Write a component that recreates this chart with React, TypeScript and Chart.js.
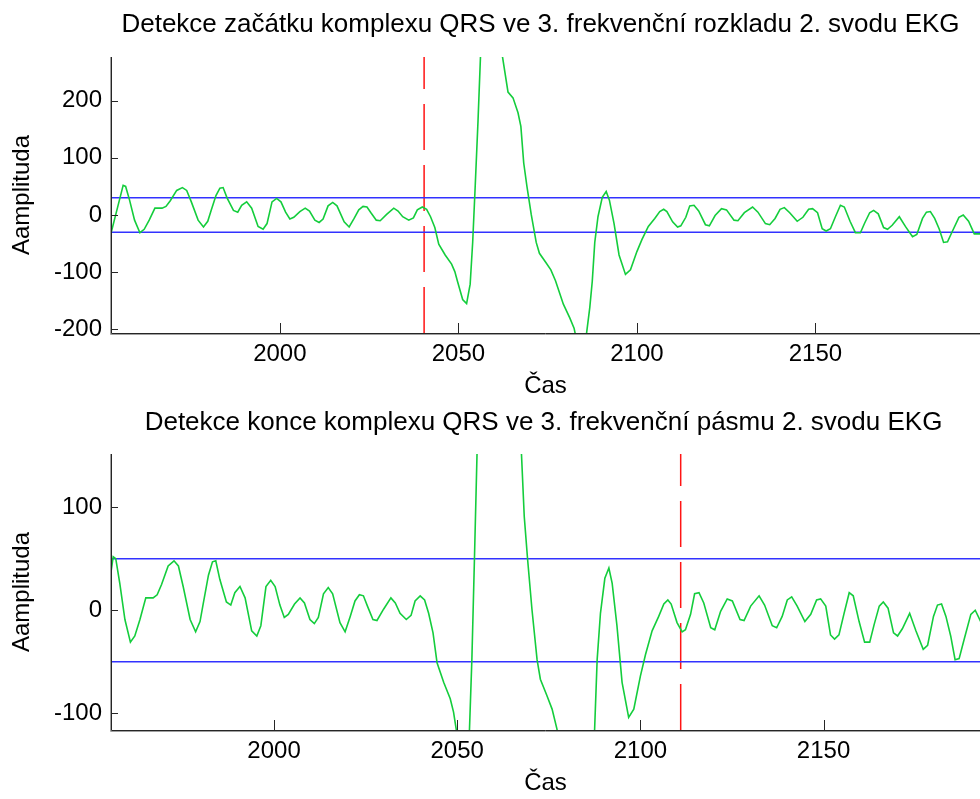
import React, { useEffect, useRef } from 'react';
import { Chart, registerables } from 'chart.js';

Chart.register(...registerables);

// ---- data (one EKG band signal, shown in both panels) ----
const signalTime = [
  1952.7, 1955.5, 1956.1, 1956.8, 1957.9, 1959.3, 1960.8, 1962.0, 1963.4, 1965.0,
  1967.0, 1968.1, 1969.3, 1971.1, 1972.7, 1973.9, 1975.2, 1977.1, 1978.6, 1979.8,
  1980.7, 1982.1, 1983.2, 1984.1, 1985.2, 1987.0, 1988.2, 1989.3, 1990.7, 1992.1,
  1993.9, 1995.3, 1996.4, 1997.8, 1999.1, 2000.3, 2001.6, 2002.8, 2003.9, 2005.6,
  2007.1, 2008.3, 2009.8, 2011.0, 2012.1, 2013.5, 2014.8, 2016.0, 2018.0, 2019.4,
  2020.8, 2022.1, 2023.3, 2024.4, 2025.5, 2027.0, 2028.1, 2029.9, 2031.9, 2033.1,
  2034.4, 2036.1, 2037.4, 2038.5, 2039.9, 2041.1, 2042.2, 2043.4, 2044.5, 2046.3,
  2048.1, 2049.0, 2049.7, 2051.2, 2052.3, 2053.3, 2054.0, 2054.7, 2055.5, 2056.2,
  2057.0, 2058.0, 2059.0, 2060.0, 2061.0, 2062.3, 2063.9, 2065.3, 2066.7, 2067.5,
  2068.3, 2069.2, 2070.4, 2071.8, 2072.7, 2074.5, 2075.9, 2077.2, 2079.4, 2081.2,
  2082.4, 2083.2, 2084.2, 2085.2, 2085.9, 2086.8, 2087.5, 2088.2, 2089.1, 2090.3,
  2091.4, 2092.3, 2093.6, 2095.0, 2096.8, 2098.2, 2100.0, 2101.4, 2103.2, 2105.0,
  2106.4, 2107.5, 2108.4, 2110.0, 2111.4, 2112.3, 2113.7, 2114.8, 2116.0, 2117.3,
  2119.2, 2120.3, 2121.9, 2123.7, 2125.1, 2127.2, 2128.3, 2130.1, 2132.4, 2133.9,
  2136.0, 2137.2, 2138.7, 2140.1, 2141.3, 2142.8, 2144.9, 2146.5, 2148.1, 2149.2,
  2150.6, 2151.9, 2153.0, 2154.2, 2155.6, 2157.0, 2158.1, 2159.7, 2161.2, 2162.6,
  2163.8, 2165.2, 2166.3, 2167.6, 2169.1, 2170.2, 2171.5, 2173.5, 2175.2, 2177.2,
  2178.4, 2180.0, 2181.1, 2182.2, 2183.4, 2184.7, 2185.9, 2187.0, 2188.4, 2190.2,
  2191.4, 2192.9, 2194.5, 2196.1,
];
const signalAmp = [
  -32, 37, 52, 50, 26, -9, -31, -25, -9, 12,
  12, 15, 25, 43, 48, 43, 23, -9, -21, -11,
  7, 34, 47, 48, 30, 8, 5, 17, 23, 12,
  -20, -25, -15, 23, 29, 23, 5, -7, -4, 6,
  12, 7, -9, -13, -7, 16, 22, 16, -12, -21,
  -6, 9, 15, 14, 4, -9, -10, 1, 12, 7,
  -3, -9, -5, 9, 14, 10, -3, -22, -51, -70,
  -86, -99, -115, -148, -155, -121, -48, 49, 165, 279,
  360, 420, 415, 375, 330, 279, 215, 205, 179, 155,
  91, 50, 1, -48, -67, -83, -96, -115, -156, -180,
  -198, -222, -235, -228, -207, -162, -116, -48, -3, 31,
  41, 26, -15, -70, -104, -96, -64, -43, -20, -6,
  6, 10, 6, -12, -21, -19, -4, 16, 17, 7,
  -17, -19, -1, 11, 9, -9, -10, 4, 14, 5,
  -15, -17, -6, 10, 13, 4, -11, -4, 10, 11,
  4, -24, -28, -24, -3, 17, 14, -11, -31, -31,
  -14, 4, 8, 2, -22, -25, -18, -3, -20, -38,
  -34, -6, 5, 6, -6, -25, -48, -47, -28, -4,
  0, -11, -33, -33,
];

const topTitle = 'Detekce začátku komplexu QRS ve 3. frekvenční rozkladu 2. svodu EKG';
const bottomTitle = 'Detekce konce komplexu QRS ve 3. frekvenční pásmu 2. svodu EKG';
const xLabel = 'Čas';
const yLabel = 'Aamplituda';
const xTicks = [2000, 2050, 2100, 2150];
const topYTicks = [-200, -100, 0, 100, 200];
const bottomYTicks = [-100, 0, 100];
const topXRange = [1952.7, 2196.1];
const bottomXRange = [1955.5, 2192.7];
const topYRange = [-206.5, 276.5];
const bottomYRange = [-116.3, 151.7];
const topThreshold = 30;
const bottomThreshold = 50;
const topMarker = 2040.4;
const bottomMarker = 2111;

const FONT = "'Liberation Sans', Arial, Helvetica, sans-serif";

const axesPlugin = {
  id: 'matlabAxes',
  afterLayout(chart: any, _args: any, opts: any) {
    const shift = opts && opts.titleShift ? opts.titleShift : 0;
    if (chart.titleBlock && shift) {
      chart.titleBlock.left += shift;
      chart.titleBlock.right += shift;
    }
  },
  afterDatasetsDraw(chart: any) {
    const { ctx, chartArea: a, scales } = chart;
    const x = scales.x;
    const y = scales.y;
    ctx.save();
    ctx.lineWidth = 1;
    ctx.strokeStyle = '#a0a0a0';
    ctx.beginPath();
    ctx.moveTo(a.left - 0.5, a.top);
    ctx.lineTo(a.left - 0.5, a.bottom + 1.5);
    ctx.lineTo(a.right, a.bottom + 1.5);
    ctx.stroke();
    ctx.strokeStyle = '#262626';
    ctx.beginPath();
    ctx.moveTo(a.left + 0.5, a.top);
    ctx.lineTo(a.left + 0.5, a.bottom + 0.5);
    ctx.lineTo(a.right, a.bottom + 0.5);
    for (const t of y.ticks) {
      const py = Math.round(y.getPixelForValue(t.value)) + 0.5;
      ctx.moveTo(a.left, py);
      ctx.lineTo(a.left + 7, py);
    }
    for (const t of x.ticks) {
      const px = Math.round(x.getPixelForValue(t.value)) + 0.5;
      ctx.moveTo(px, a.bottom);
      ctx.lineTo(px, a.bottom - 10);
    }
    ctx.stroke();
    ctx.restore();
  },
};

type PanelCfg = {
  title: string;
  xRange: number[];
  yRange: number[];
  yTicks: number[];
  threshold: number;
  marker: number;
  height: number;
  titlePadTop: number;
  titlePadBottom: number;
  titleShift: number;
  xAxisHeight: number;
  xTitlePadBottom: number;
};

function makeChart(canvas: HTMLCanvasElement, c: PanelCfg) {
  const signal = signalTime.map((t, i) => ({ x: t, y: signalAmp[i] }));
  return new Chart(canvas, {
    type: 'line',
    data: {
      datasets: [
        {
          data: signal,
          borderColor: 'rgb(20, 205, 60)',
          borderWidth: 1.6,
          pointRadius: 0,
          tension: 0,
          clip: 0,
          order: 1,
        },
        {
          data: [{ x: c.xRange[0], y: c.threshold }, { x: c.xRange[1], y: c.threshold }],
          borderColor: 'rgb(50, 50, 255)',
          borderWidth: 1.5,
          pointRadius: 0,
          clip: 0,
          order: 2,
        },
        {
          data: [{ x: c.xRange[0], y: -c.threshold }, { x: c.xRange[1], y: -c.threshold }],
          borderColor: 'rgb(50, 50, 255)',
          borderWidth: 1.5,
          pointRadius: 0,
          clip: 0,
          order: 2,
        },
        {
          data: [{ x: c.marker, y: c.yRange[0] }, { x: c.marker, y: c.yRange[1] }],
          borderColor: 'rgb(255, 20, 20)',
          borderWidth: 1.5,
          borderDash: [46, 15],
          pointRadius: 0,
          clip: 0,
          order: 3,
        },
      ],
    },
    options: {
      animation: false,
      responsive: false,
      maintainAspectRatio: false,
      events: [],
      layout: { padding: 0 },
      plugins: {
        legend: { display: false },
        tooltip: { enabled: false },
        matlabAxes: { titleShift: c.titleShift },
        title: {
          display: true,
          text: c.title,
          fullSize: false,
          color: '#000',
          font: { family: FONT, size: 26, weight: 'normal', lineHeight: 1.2 },
          padding: { top: c.titlePadTop, bottom: c.titlePadBottom },
        },
      },
      scales: {
        x: {
          type: 'linear',
          min: c.xRange[0],
          max: c.xRange[1],
          grid: { display: false, drawTicks: false },
          border: { display: false },
          afterBuildTicks: (s: any) => {
            s.ticks = xTicks.map((v) => ({ value: v }));
          },
          afterFit: (s: any) => {
            s.height = c.xAxisHeight;
          },
          ticks: {
            color: '#000',
            padding: 7,
            maxRotation: 0,
            autoSkip: false,
            font: { family: FONT, size: 24, lineHeight: 1.2 },
            callback: (v: any) => String(v),
          },
          title: {
            display: true,
            text: xLabel,
            color: '#000',
            font: { family: FONT, size: 24, lineHeight: 1.2 },
            padding: { top: 0, bottom: c.xTitlePadBottom },
          },
        },
        y: {
          type: 'linear',
          min: c.yRange[0],
          max: c.yRange[1],
          grid: { display: false, drawTicks: false },
          border: { display: false },
          afterBuildTicks: (s: any) => {
            s.ticks = c.yTicks.map((v) => ({ value: v }));
          },
          afterFit: (s: any) => {
            s.width = 111;
          },
          ticks: {
            color: '#000',
            padding: 9,
            autoSkip: false,
            font: { family: FONT, size: 24, lineHeight: 1.2 },
            callback: (v: any) => String(v),
          },
          title: {
            display: true,
            text: yLabel,
            color: '#000',
            font: { family: FONT, size: 24, lineHeight: 1.2 },
            padding: { top: 8, bottom: 0 },
          },
        },
      },
    },
    plugins: [axesPlugin],
  } as any);
}

function Panel({ cfg, top }: { cfg: PanelCfg; top: number }) {
  const ref = useRef<HTMLCanvasElement>(null);
  useEffect(() => {
    if (!ref.current) return;
    const chart = makeChart(ref.current, cfg);
    return () => chart.destroy();
  }, [cfg]);
  return (
    <canvas
      ref={ref}
      width={980}
      height={cfg.height}
      style={{ position: 'absolute', left: 0, top, width: 980, height: cfg.height, display: 'block' }}
    />
  );
}

const topCfg: PanelCfg = {
  title: topTitle,
  xRange: topXRange,
  yRange: topYRange,
  yTicks: topYTicks,
  threshold: topThreshold,
  marker: topMarker,
  height: 405,
  titlePadTop: 9,
  titlePadBottom: 16.8,
  titleShift: -5,
  xAxisHeight: 72,
  xTitlePadBottom: 4,
};

const bottomCfg: PanelCfg = {
  title: bottomTitle,
  xRange: bottomXRange,
  yRange: bottomYRange,
  yTicks: bottomYTicks,
  threshold: bottomThreshold,
  marker: bottomMarker,
  height: 399,
  titlePadTop: 7.7,
  titlePadBottom: 15.1,
  titleShift: -2,
  xAxisHeight: 69,
  xTitlePadBottom: 1,
};

export default function App() {
  return (
    <div style={{ position: 'absolute', left: 0, top: 0, width: 980, height: 799, background: '#fff', overflow: 'hidden' }}>
      <Panel cfg={topCfg} top={0} />
      <Panel cfg={bottomCfg} top={400} />
    </div>
  );
}
